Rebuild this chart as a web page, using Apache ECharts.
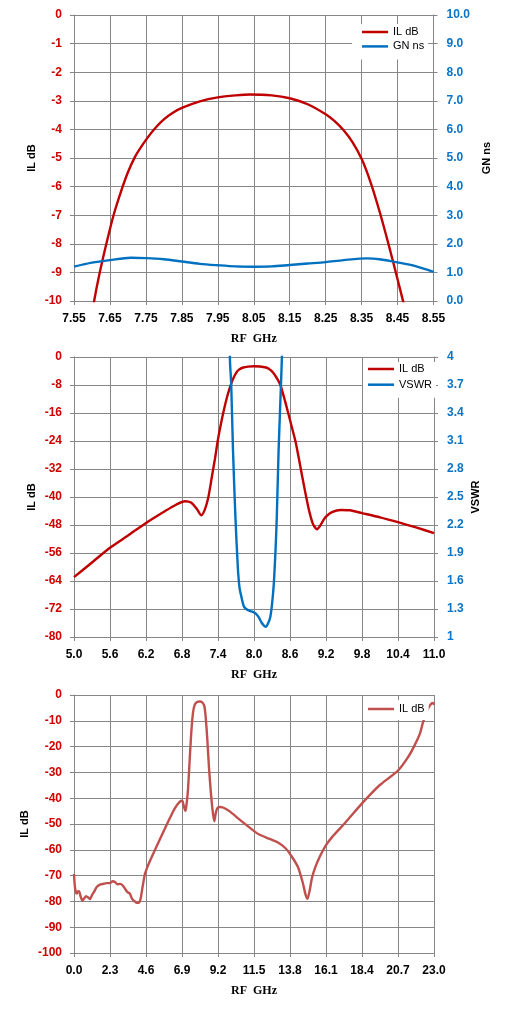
<!DOCTYPE html>
<html>
<head>
<meta charset="utf-8">
<script src="https://cdn.jsdelivr.net/npm/echarts@6/dist/echarts.min.js"></script>
<style>
  html, body { margin: 0; padding: 0; background: #fff; }
  #chart { width: 510px; height: 1015px; }
</style>
</head>
<body>
<div id="chart"></div>
<script>
// ---- chart 1: passband detail, 7.55 - 8.55 GHz ----
const band1Start = 7.55;
const band1IL = [
  [7.600, -10.5], [7.606, -10.0], [7.620, -9.1], [7.640, -8.0], [7.660, -7.0],
  [7.680, -6.2], [7.700, -5.5], [7.720, -4.95], [7.740, -4.55], [7.760, -4.2],
  [7.780, -3.9], [7.800, -3.65], [7.825, -3.42], [7.850, -3.25], [7.900, -3.02],
  [7.950, -2.88], [8.000, -2.81], [8.040, -2.78], [8.100, -2.81], [8.150, -2.91],
  [8.200, -3.12], [8.250, -3.47], [8.275, -3.71], [8.300, -4.03], [8.325, -4.45],
  [8.350, -5.03], [8.375, -5.85], [8.400, -6.87], [8.425, -8.02], [8.450, -9.24],
  [8.470, -10.24]
];
const band1GN = [
  [7.55, 1.20], [7.60, 1.34], [7.65, 1.43], [7.708, 1.51], [7.75, 1.50],
  [7.80, 1.46], [7.85, 1.38], [7.90, 1.30], [7.95, 1.25], [8.00, 1.21],
  [8.05, 1.20], [8.10, 1.21], [8.15, 1.26], [8.20, 1.31], [8.25, 1.36],
  [8.30, 1.43], [8.366, 1.49], [8.40, 1.46], [8.45, 1.35], [8.50, 1.22],
  [8.55, 1.02]
];

// ---- chart 2: 5 - 11 GHz with VSWR ----
const band2Start = 5.0;
const vswrBase = 1;
const band2IL = [
  [5.0, -62.9], [5.3, -58.7], [5.6, -54.5], [5.9, -51.0], [6.2, -47.4],
  [6.5, -44.2], [6.7, -42.2], [6.85, -41.2], [6.95, -41.6], [7.05, -43.5],
  [7.12, -45.2], [7.18, -43.6], [7.24, -40.0], [7.30, -34.0], [7.35, -29.0],
  [7.40, -23.5], [7.45, -19.0], [7.50, -15.0], [7.55, -11.5], [7.60, -8.6],
  [7.65, -6.3], [7.70, -4.6], [7.75, -3.6], [7.82, -3.0], [7.90, -2.75],
  [8.00, -2.65], [8.10, -2.70], [8.20, -3.0], [8.25, -3.4], [8.30, -4.1],
  [8.35, -5.2], [8.40, -6.6], [8.44, -8.0], [8.50, -11.5], [8.57, -16.0],
  [8.63, -20.0], [8.69, -24.0], [8.74, -28.3], [8.78, -32.0], [8.83, -36.5],
  [8.87, -40.0], [8.92, -44.0], [8.98, -47.6], [9.05, -49.2], [9.10, -48.3],
  [9.15, -46.8], [9.20, -45.6], [9.30, -44.3], [9.45, -43.7], [9.60, -43.8],
  [9.80, -44.6], [10.10, -45.8], [10.40, -47.2], [10.70, -48.7], [11.00, -50.3]
];
const band2VSWR = [
  [7.585, 4.40], [7.600, 3.95], [7.620, 3.71], [7.650, 3.00], [7.690, 2.29],
  [7.730, 1.75], [7.760, 1.52], [7.790, 1.43], [7.830, 1.33], [7.870, 1.30],
  [7.930, 1.28], [7.980, 1.27], [8.030, 1.25], [8.080, 1.21], [8.130, 1.15],
  [8.170, 1.12], [8.200, 1.11], [8.230, 1.14], [8.270, 1.21], [8.300, 1.35],
  [8.330, 1.57], [8.360, 1.95], [8.380, 2.29], [8.410, 3.00], [8.450, 3.71],
  [8.465, 4.00], [8.475, 4.30]
];

// ---- chart 3: wideband 0 - 23 GHz ----
const wideIL = [
  [0, -69.4], [0.04, -73.2], [0.11, -76.3], [0.17, -77.0], [0.26, -76.0],
  [0.34, -76.3], [0.43, -78.2], [0.53, -79.7], [0.64, -78.9], [0.77, -78.0],
  [0.91, -78.5], [1.02, -79.1], [1.15, -77.6], [1.28, -76.3], [1.45, -74.4],
  [1.66, -73.5], [1.87, -73.2], [2.09, -72.9], [2.30, -72.9], [2.47, -72.2],
  [2.62, -72.5], [2.77, -73.4], [2.94, -73.2], [3.11, -73.8], [3.26, -75.1],
  [3.40, -76.3], [3.57, -77.0], [3.70, -78.9], [3.83, -79.7], [4.00, -80.5],
  [4.15, -80.5], [4.26, -78.9], [4.38, -74.4], [4.53, -69.4], [4.68, -66.8],
  [4.85, -64.3], [5.20, -59.7], [5.60, -54.5], [6.11, -47.9], [6.43, -44.0],
  [6.75, -41.4], [6.92, -41.0], [7.00, -42.7], [7.11, -44.9], [7.17, -43.4],
  [7.28, -36.9], [7.39, -25.2], [7.49, -14.8], [7.60, -7.0], [7.71, -3.8],
  [7.86, -2.7], [8.03, -2.5], [8.20, -2.9], [8.33, -4.4], [8.41, -8.3],
  [8.52, -17.4], [8.62, -27.8], [8.75, -38.2], [8.88, -46.0], [8.97, -49.0],
  [9.05, -46.0], [9.14, -44.0], [9.31, -43.4], [9.52, -43.6], [9.95, -45.1],
  [10.6, -48.4], [11.2, -51.3], [11.8, -54.0], [12.5, -55.8], [13.0, -57.1],
  [13.5, -59.3], [13.9, -62.5], [14.3, -66.6], [14.6, -72.4], [14.8, -77.5],
  [14.92, -79.0], [15.05, -76.0], [15.2, -71.0], [15.4, -67.0], [15.7, -62.7],
  [16.1, -58.2], [16.5, -55.0], [17.3, -49.7], [18.4, -42.0], [19.0, -38.1],
  [19.6, -34.6], [20.7, -29.3], [21.3, -24.5], [21.72, -20.0], [22.1, -15.0],
  [22.3, -10.5], [22.6, -5.5], [22.85, -3.2], [22.95, -3.1], [23.0, -3.8]
];

const RED = '#c00000';
const BLUE = '#0070c0';
const BRICK = '#c0504d';
const GRID = '#868686';
const LABEL_RED = '#d00000';
const LABEL_BLUE = '#0a74c6';
const SANS = 'Liberation Sans';
const SERIF = 'Liberation Serif';

const shift = (points, dx, dy = 0) => points.map(([x, y]) => [x - dx, y - dy]);
const trim = (v) => String(parseFloat(v.toFixed(2)));

function xAxisFor(gridIndex, max, interval, format) {
  return {
    type: 'value', gridIndex, min: 0, max, interval,
    name: 'RF  GHz', nameLocation: 'middle', nameGap: 32, nameMoveOverlap: false,
    nameTextStyle: { fontFamily: SERIF, fontWeight: 'bold', fontSize: 12, color: '#000' },
    axisLine: { onZero: false, lineStyle: { color: GRID } },
    axisTick: { show: true, length: 4, lineStyle: { color: GRID } },
    axisLabel: { margin: 12, fontFamily: SANS, fontWeight: 'bold', fontSize: 12, color: '#000', formatter: format },
    splitLine: { show: true, lineStyle: { color: GRID, width: 1 } }
  };
}

function yAxisFor(gridIndex, position, min, max, interval, opts) {
  return {
    type: 'value', gridIndex, position, min, max, interval,
    name: opts.name, nameLocation: 'middle', nameGap: opts.nameGap, nameRotate: 90,
    nameMoveOverlap: false,
    nameTextStyle: { fontFamily: SANS, fontWeight: 'bold', fontSize: 11, color: '#000' },
    axisLine: { show: true, onZero: false, lineStyle: { color: GRID } },
    axisTick: { show: true, length: 4, lineStyle: { color: GRID } },
    axisLabel: { margin: opts.margin || 12, fontFamily: SANS, fontWeight: 'bold', fontSize: 12, color: opts.color, formatter: opts.formatter },
    splitLine: { show: position === 'left', lineStyle: { color: GRID, width: 1 } }
  };
}

function legendFor(left, top, padding, items, itemGap) {
  return {
    left, top, padding, itemGap,
    orient: 'vertical',
    backgroundColor: '#fff',
    itemWidth: 26, itemHeight: 14, itemStyle: { borderWidth: 0 },
    icon: 'path://M0,6 L26,6 L26,8.5 L0,8.5 Z',
    textStyle: { fontFamily: SANS, fontSize: 11, color: '#000', lineHeight: 14 },
    selectedMode: false,
    data: items
  };
}

function lineSeries(name, x, y, data, color, smooth) {
  return {
    name, type: 'line', xAxisIndex: x, yAxisIndex: y, data,
    symbol: 'none', smooth, clip: true,
    lineStyle: { color, width: 2.4 },
    itemStyle: { color }
  };
}

const chart = echarts.init(document.getElementById('chart'), null, { renderer: 'canvas' });

chart.setOption({
  animation: false,
  backgroundColor: '#fff',
  grid: [
    { left: 74, top: 15, width: 359.5, height: 286 },
    { left: 74, top: 357, width: 360, height: 280 },
    { left: 74, top: 695, width: 360, height: 258 }
  ],
  xAxis: [
    xAxisFor(0, 1, 0.1, (v) => (v + band1Start).toFixed(2)),
    xAxisFor(1, 6, 0.6, (v) => (v + band2Start).toFixed(1)),
    xAxisFor(2, 23, 2.3, (v) => v.toFixed(1))
  ],
  yAxis: [
    yAxisFor(0, 'left', -10, 0, 1, { name: 'IL dB', nameGap: 37, color: LABEL_RED }),
    yAxisFor(0, 'right', 0, 10, 1, { name: 'GN ns', nameGap: 48, margin: 13, color: LABEL_BLUE, formatter: (v) => v.toFixed(1) }),
    yAxisFor(1, 'left', -80, 0, 8, { name: 'IL dB', nameGap: 37, color: LABEL_RED }),
    yAxisFor(1, 'right', 0, 3, 0.3, { name: 'VSWR', nameGap: 36, margin: 13, color: LABEL_BLUE, formatter: (v) => trim(v + vswrBase) }),
    yAxisFor(2, 'left', -100, 0, 10, { name: 'IL dB', nameGap: 44, color: LABEL_RED })
  ],
  legend: [
    legendFor(352, 24, [1, 4, 6, 10], [
      { name: 'IL dB', itemStyle: { color: RED } },
      { name: 'GN ns', itemStyle: { color: BLUE } }
    ], 0.4),
    legendFor(363, 362, [0, 4, 6, 5], [
      { name: 'IL dB', itemStyle: { color: RED } },
      { name: 'VSWR', itemStyle: { color: BLUE } }
    ], 1.7),
    legendFor(363, 700, [2, 4, 4, 5], [
      { name: 'IL dB', itemStyle: { color: BRICK } }
    ], 0)
  ],
  series: [
    lineSeries('IL dB', 0, 0, shift(band1IL, band1Start), RED, 0.3),
    lineSeries('GN ns', 0, 1, shift(band1GN, band1Start), BLUE, 0.3),
    lineSeries('IL dB', 1, 2, shift(band2IL, band2Start), RED, 0.25),
    lineSeries('VSWR', 1, 3, shift(band2VSWR, band2Start, vswrBase), BLUE, 0.25),
    lineSeries('IL dB', 2, 4, wideIL, BRICK, 0.2)
  ]
});

window.addEventListener('resize', () => chart.resize());
</script>
</body>
</html>
